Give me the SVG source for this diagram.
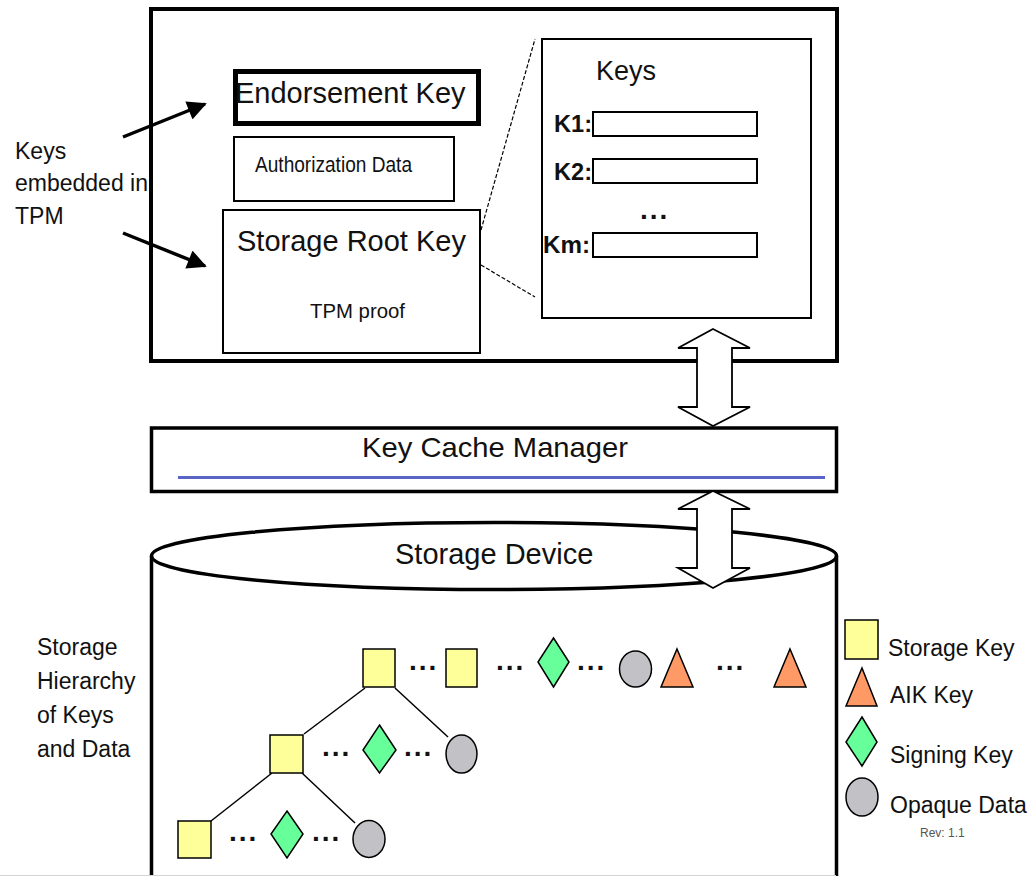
<svg xmlns="http://www.w3.org/2000/svg" width="1032" height="876" viewBox="0 0 1032 876">
<style>
text{font-family:"Liberation Sans",Arial,sans-serif;fill:#111}
.box{fill:none;stroke:#000;stroke-width:2}
.thick{fill:none;stroke:#000;stroke-width:4}
.sk{fill:#ffff99;stroke:#000;stroke-width:1.5}
.aik{fill:#ff9966;stroke:#000;stroke-width:1.5}
.sig{fill:#66ff99;stroke:#000;stroke-width:1.5}
.opq{fill:#c2c1c6;stroke:#000;stroke-width:1.5}
.dots{font-weight:bold;font-size:28px;letter-spacing:2px}
.lbl{font-size:23px}
.dash{fill:none;stroke:#000;stroke-width:1.2;stroke-dasharray:4 2}
.tree{fill:none;stroke:#000;stroke-width:1.5}
.dbl{fill:#fff;stroke:#000;stroke-width:1.8;stroke-linejoin:miter}
</style>
<defs>
<marker id="ah" viewBox="0 0 10 10" refX="9" refY="5" markerWidth="6" markerHeight="5.5" orient="auto" markerUnits="strokeWidth">
<path d="M0,0 L10,5 L0,10 z" fill="#000"/>
</marker>
</defs>
<rect width="1032" height="876" fill="#fff"/>

<g id="keys-embedded-label">
<text class="lbl" x="15" y="159">Keys</text>
<text class="lbl" x="15" y="191">embedded in</text>
<text class="lbl" x="15" y="224">TPM</text>
</g>

<g id="tpm">
<rect class="thick" x="151" y="9" width="686" height="352"/>
</g>

<g id="endorsement-key">
<rect x="235.5" y="71.5" width="243" height="52" fill="none" stroke="#000" stroke-width="5"/>
<text x="235" y="103" font-size="29">Endorsement Key</text>
</g>

<g id="authorization-data">
<rect class="box" x="234" y="137" width="220" height="64"/>
<text x="255" y="172" font-size="22" textLength="157" lengthAdjust="spacingAndGlyphs">Authorization Data</text>
</g>

<g id="storage-root-key">
<rect class="box" x="223" y="210" width="257" height="143"/>
<text x="237" y="251" font-size="29">Storage Root Key</text>
<text x="310" y="318" font-size="20" textLength="95" lengthAdjust="spacingAndGlyphs">TPM proof</text>
</g>

<g id="keys">
<rect class="box" x="542" y="39" width="269" height="279"/>
<text x="596" y="80" font-size="27">Keys</text>
<text x="554" y="132" font-size="23" font-weight="bold" textLength="38" lengthAdjust="spacingAndGlyphs">K1:</text>
<rect class="box" x="593" y="112" width="164" height="24"/>
<text x="554" y="180" font-size="23" font-weight="bold" textLength="38" lengthAdjust="spacingAndGlyphs">K2:</text>
<rect class="box" x="593" y="159" width="164" height="24"/>
<text class="dots" x="640" y="219" font-size="30">...</text>
<text x="543" y="253" font-size="23" font-weight="bold" textLength="47" lengthAdjust="spacingAndGlyphs">Km:</text>
<rect class="box" x="593" y="233" width="164" height="24"/>
</g>

<g id="key-cache-manager">
<rect x="151.5" y="428" width="685" height="63.5" fill="none" stroke="#000" stroke-width="3.5"/>
<line x1="178" y1="477.5" x2="825" y2="477.5" stroke="#5a63c6" stroke-width="3"/>
<text x="362" y="457" font-size="28" textLength="266" lengthAdjust="spacingAndGlyphs">Key Cache Manager</text>
</g>

<g id="storage-device">
<path d="M151.5,556 L151.5,880 M836.5,556 L836.5,880" fill="none" stroke="#000" stroke-width="3.5"/>
<ellipse cx="494" cy="556" rx="342.5" ry="33.5" fill="none" stroke="#000" stroke-width="3.5"/>
<text x="395" y="564" font-size="29">Storage Device</text>
<line x1="0" y1="875.5" x2="836" y2="875.5" stroke="#d4d4d4" stroke-width="1"/>
</g>

<g id="hierarchy-label">
<text class="lbl" x="37" y="655">Storage</text>
<text class="lbl" x="37" y="689">Hierarchy</text>
<text class="lbl" x="37" y="723">of Keys</text>
<text class="lbl" x="37" y="757">and Data</text>
</g>

<g id="connectors">
<line x1="123" y1="137" x2="205" y2="104" stroke="#000" stroke-width="3.5" marker-end="url(#ah)"/>
<line x1="123" y1="233" x2="205" y2="266" stroke="#000" stroke-width="3.5" marker-end="url(#ah)"/>
<line class="dash" x1="481" y1="230" x2="535" y2="39"/>
<line class="dash" x1="481" y1="265" x2="535" y2="297"/>
<path class="dbl" d="M713,329 L750,348 L732,348 L732,407 L750,407 L713,426 L678,407 L697,407 L697,348 L678,348 Z"/>
<path class="dbl" d="M713,491 L750,509 L732,509 L732,568 L750,568 L713,588 L678,568 L697,568 L697,509 L678,509 Z"/>
<line class="tree" x1="365" y1="688" x2="304" y2="734"/>
<line class="tree" x1="395" y1="688" x2="448" y2="737"/>
<line class="tree" x1="272" y1="773" x2="211" y2="821"/>
<line class="tree" x1="302" y1="773" x2="355" y2="823"/>
</g>

<g id="row-top">
<rect class="sk" x="363" y="649" width="32" height="38"/>
<text class="dots" x="409" y="670">...</text>
<rect class="sk" x="446" y="649" width="31" height="38"/>
<text class="dots" x="496" y="670">...</text>
<polygon class="sig" points="553.5,638 569,662 553.5,687 538,662"/>
<text class="dots" x="577" y="670">...</text>
<ellipse class="opq" cx="635.5" cy="669" rx="16" ry="18"/>
<polygon class="aik" points="677,649 693,687 661,687"/>
<text class="dots" x="716" y="670">...</text>
<polygon class="aik" points="790,649 806,687 774,687"/>
</g>

<g id="row-mid">
<rect class="sk" x="270" y="735" width="33" height="38"/>
<text class="dots" x="322" y="756">...</text>
<polygon class="sig" points="379.5,725 396,750 379.5,773 363,750"/>
<text class="dots" x="404" y="756">...</text>
<ellipse class="opq" cx="461.5" cy="754" rx="15.5" ry="19"/>
</g>

<g id="row-bottom">
<rect class="sk" x="178" y="821" width="33" height="37"/>
<text class="dots" x="229" y="841">...</text>
<polygon class="sig" points="287,811 303,834 287,858 271,834"/>
<text class="dots" x="312" y="841">...</text>
<ellipse class="opq" cx="369" cy="839" rx="16" ry="18.5"/>
</g>

<g id="legend">
<rect class="sk" x="845" y="620" width="33" height="39"/>
<text x="888" y="656" font-size="23">Storage Key</text>
<polygon class="aik" points="862,668 877,706 846,706"/>
<text x="890" y="703" font-size="23">AIK Key</text>
<polygon class="sig" points="862,717 877,742 862,766 846,742"/>
<text x="890" y="763" font-size="23">Signing Key</text>
<ellipse class="opq" cx="862" cy="797" rx="16" ry="19"/>
<text x="890" y="813" font-size="23">Opaque Data</text>
<text x="920" y="837" font-size="12" style="fill:#555">Rev: 1.1</text>
</g>
</svg>
